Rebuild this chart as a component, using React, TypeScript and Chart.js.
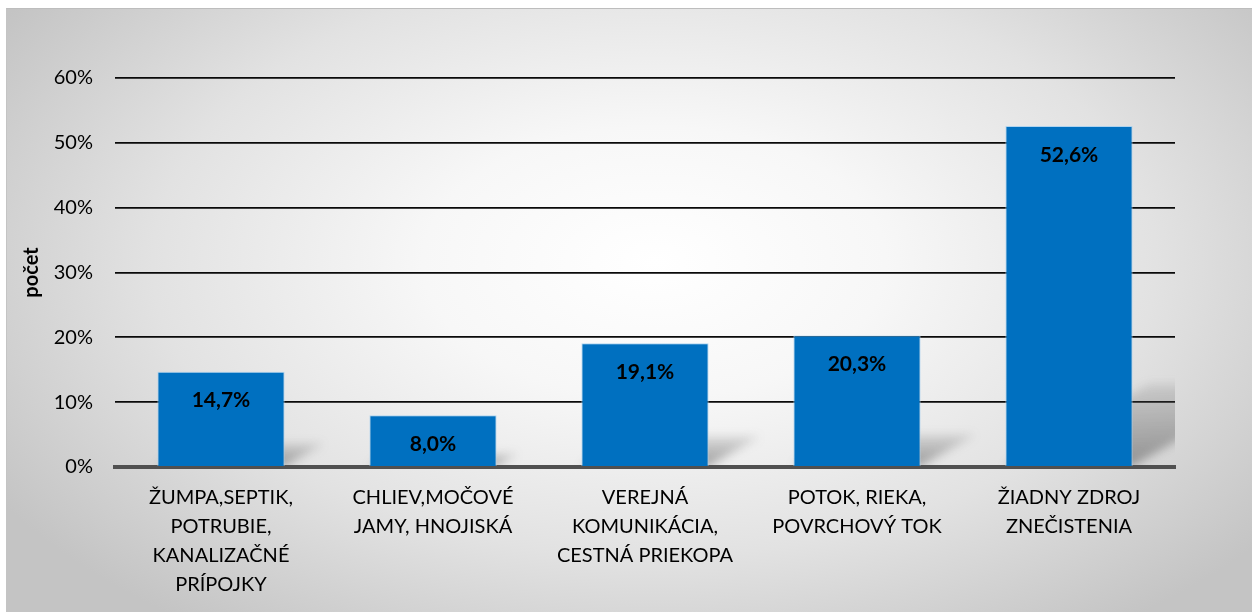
import React, { useEffect, useRef } from "react";
import { Chart, registerables } from "chart.js";

Chart.register(...registerables);

const categories: string[][] = [
  ["ŽUMPA,SEPTIK,", "POTRUBIE,", "KANALIZAČNÉ", "PRÍPOJKY"],
  ["CHLIEV,MOČOVÉ", "JAMY, HNOJISKÁ"],
  ["VEREJNÁ", "KOMUNIKÁCIA,", "CESTNÁ PRIEKOPA"],
  ["POTOK, RIEKA,", "POVRCHOVÝ TOK"],
  ["ŽIADNY ZDROJ", "ZNEČISTENIA"],
];
const values: number[] = [14.7, 8.0, 19.1, 20.3, 52.6];
const yTicks: number[] = [0, 10, 20, 30, 40, 50, 60];
const yTitle = "počet";

const FONT = "Lato, 'Open Sans', sans-serif";

const shadowPlugin = {
  id: "barShadow",
  beforeDatasetsDraw(chart: any) {
    const { ctx, chartArea } = chart;
    const meta = chart.getDatasetMeta(0);
    ctx.save();
    ctx.beginPath();
    ctx.rect(chartArea.left, chartArea.top, chartArea.right - chartArea.left, chartArea.bottom - chartArea.top - 2);
    ctx.clip();
    ctx.filter = "blur(5px)";
    meta.data.forEach((bar: any) => {
      const h = bar.base - bar.y;
      const left = bar.x - bar.width / 2;
      const right = bar.x + bar.width / 2;
      const dx = h * 0.42;
      const dy = h * 0.24;
      const g = ctx.createLinearGradient(0, bar.base, 0, bar.base - dy);
      g.addColorStop(0, "rgba(90,90,90,0.55)");
      g.addColorStop(1, "rgba(90,90,90,0.15)");
      ctx.fillStyle = g;
      ctx.beginPath();
      ctx.moveTo(left, bar.base);
      ctx.lineTo(right, bar.base);
      ctx.lineTo(right + dx, bar.base - dy);
      ctx.lineTo(left + dx, bar.base - dy);
      ctx.closePath();
      ctx.fill();
    });
    ctx.restore();
  },
};

const labelPlugin = {
  id: "barLabels",
  afterDatasetsDraw(chart: any) {
    const { ctx } = chart;
    const meta = chart.getDatasetMeta(0);
    ctx.save();
    ctx.font = `bold 21px ${FONT}`;
    ctx.fillStyle = "#000";
    ctx.textAlign = "center";
    ctx.textBaseline = "middle";
    meta.data.forEach((bar: any, i: number) => {
      const v = values[i];
      ctx.fillText(v.toFixed(1).replace(".", ",") + "%", bar.x, bar.y + 29);
    });
    ctx.restore();
  },
};

export default function App() {
  const ref = useRef<HTMLCanvasElement>(null);
  useEffect(() => {
    if (!ref.current) return;
    const chart = new Chart(ref.current, {
      type: "bar",
      data: {
        labels: categories,
        datasets: [
          {
            data: values,
            backgroundColor: "#0070C0",
            borderColor: "rgba(170,210,240,0.9)",
            borderWidth: 1,
            categoryPercentage: 1,
            barPercentage: 0.6,
          },
        ],
      },
      options: {
        animation: false,
        responsive: false,
        layout: { padding: { top: 78, right: 80, left: 0, bottom: 0 } },
        plugins: { legend: { display: false }, tooltip: { enabled: false } },
        scales: {
          x: {
            grid: { display: false, drawTicks: false },
            border: { display: true, color: "#505050", width: 4 },
            ticks: {
              color: "#000",
              font: { family: FONT, size: 20, lineHeight: 1.45 },
              padding: 16,
              maxRotation: 0,
              autoSkip: false,
            },
            afterFit(scale: any) {
              scale.height = 145;
            },
          },
          y: {
            min: 0,
            max: 60,
            afterBuildTicks(scale: any) {
              scale.ticks = yTicks.map((v) => ({ value: v }));
            },
            grid: {
              color: (c: any) => (c.tick && c.tick.value === 0 ? "rgba(0,0,0,0)" : "#0a0a0a"),
              lineWidth: 1.8,
              drawTicks: false,
            },
            border: { display: false },
            ticks: {
              color: "#000",
              font: { family: FONT, size: 20 },
              padding: 22,
              callback: (v: any) => v + "%",
            },
            title: {
              display: true,
              text: yTitle,
              color: "#000",
              font: { family: FONT, size: 20, weight: "bold" },
              padding: { top: 20, bottom: 0 },
            },
            afterFit(scale: any) {
              scale.width = 115;
            },
          },
        },
      },
      plugins: [shadowPlugin, labelPlugin],
    });
    return () => chart.destroy();
  }, []);

  return (
    <div style={{ position: "fixed", left: 0, top: 0, width: 1255, height: 612, background: "#fff" }}>
      <div
        style={{
          position: "absolute",
          left: 6,
          top: 8,
          width: 1246,
          height: 604,
          boxSizing: "border-box",
          borderTop: "1px solid #bdbdbd",
          borderLeft: "1px solid #c4c4c4",
          background:
            "radial-gradient(ellipse 62% 75% at 52% 42%, #ffffff 0%, #f7f7f7 30%, #e2e2e2 65%, #c4c4c4 100%)",
        }}
      />
      <canvas ref={ref} width={1255} height={612} style={{ position: "absolute", left: 0, top: 0 }} />
    </div>
  );
}
